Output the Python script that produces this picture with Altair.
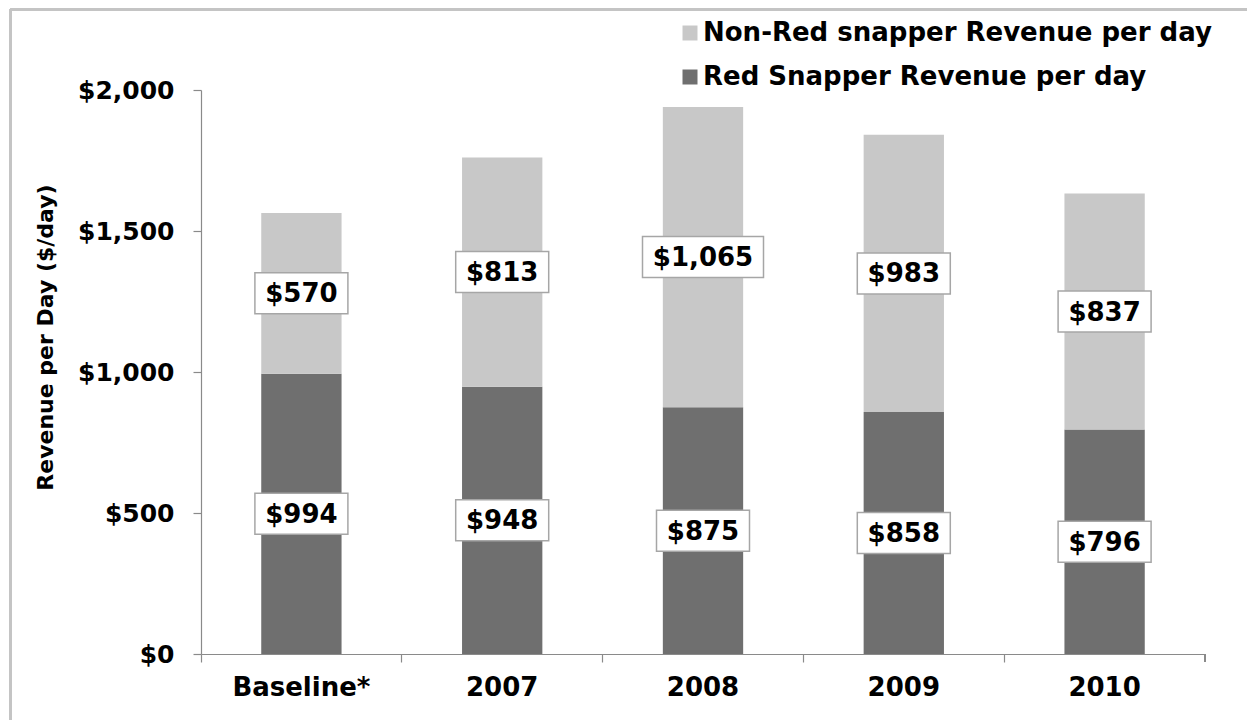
import altair as alt
import pandas as pd

categories = ["Baseline*", "2007", "2008", "2009", "2010"]
red_snapper = [994, 948, 875, 858, 796]
non_red = [570, 813, 1065, 983, 837]
series_names = ["Non-Red snapper Revenue per day", "Red Snapper Revenue per day"]
y_ticks = [0, 500, 1000, 1500, 2000]

rows = []
for c, r, n in zip(categories, red_snapper, non_red):
    rows.append({"cat": c, "series": series_names[1], "value": r, "order": 0})
    rows.append({"cat": c, "series": series_names[0], "value": n, "order": 1})
df = pd.DataFrame(rows)

W, H = 1004, 564
FONT = "DejaVu Sans"
LIGHT, DARK = "#c8c8c8", "#6f6f6f"
AXIS_GRAY = "#8a8a8a"

base = alt.Chart(df).transform_stack(
    stack="value", groupby=["cat"], as_=["y0", "y1"],
    sort=[alt.SortField("order", order="ascending")]
).transform_calculate(mid="(datum.y0 + datum.y1) / 2")

xenc = alt.X("cat:N", sort=categories,
             scale=alt.Scale(paddingInner=0, paddingOuter=0),
             axis=alt.Axis(title=None, labelAngle=0, bandPosition=0,
                           tickSize=8, tickColor=AXIS_GRAY, domainColor=AXIS_GRAY,
                           labelFont=FONT, labelFontWeight="bold",
                           labelFontSize=26, labelColor="black", labelPadding=12,
                           tickWidth=1.2, domainWidth=1.2))

bars = base.mark_bar(width=alt.RelativeBandSize(0.4)).encode(
    x=xenc,
    y=alt.Y("y0:Q", scale=alt.Scale(domain=[0, 2000]),
            axis=alt.Axis(values=y_ticks, format="$,.0f", title="Revenue per Day ($/day)",
                          grid=False, tickSize=8, tickColor=AXIS_GRAY, domainColor=AXIS_GRAY,
                          labelFont=FONT, labelFontWeight="bold", labelFontSize=25,
                          labelColor="black", labelPadding=19,
                          titleFont=FONT, titleFontWeight="bold", titleFontSize=22,
                          titleColor="black", titleX=-156, titleY=247, titleAngle=-90,
                          titleAlign="center", titleBaseline="middle",
                          tickWidth=1.2, domainWidth=1.2)),
    y2="y1:Q",
    color=alt.Color("series:N",
                    scale=alt.Scale(domain=series_names, range=[LIGHT, DARK]),
                    legend=alt.Legend(title=None, orient="none", legendX=476, legendY=-70,
                                      symbolType="square", symbolSize=225,
                                      symbolStrokeWidth=0,
                                      labelFont=FONT, labelFontWeight="bold",
                                      labelFontSize=26, labelColor="black",
                                      labelLimit=0,
                                      labelOffset=0, rowPadding=18)),
    order=alt.Order("order:Q"),
)

box_shape = ("datum.value >= 1000 ? "
             "'M-1.21,-0.41L1.21,-0.41L1.21,0.41L-1.21,0.41Z' : "
             "'M-0.93,-0.41L0.93,-0.41L0.93,0.41L-0.93,0.41Z'")

boxes = base.transform_calculate(shp=box_shape).mark_point(
    filled=True, fill="white", stroke="#a6a6a6", strokeWidth=1.5, size=10000, opacity=1
).encode(
    x=alt.X("cat:N", sort=categories),
    y=alt.Y("mid:Q"),
    shape=alt.Shape("shp:N", scale=None),
)

labels = base.mark_text(font=FONT, fontWeight="bold", fontSize=26, color="black",
                        baseline="middle", align="center", dy=1).encode(
    x=alt.X("cat:N", sort=categories),
    y=alt.Y("mid:Q"),
    text=alt.Text("value:Q", format="$,.0f"),
)

last_tick = alt.Chart(df).mark_rule(color=AXIS_GRAY, strokeWidth=1.2).encode(
    x=alt.value(W), y=alt.value(H), y2=alt.value(H + 8))

frame_top = alt.Chart(df).mark_rule(color="#c4c4c4", strokeWidth=2).encode(
    x=alt.value(-190.5), x2=alt.value(W + 80), y=alt.value(-80.5))
frame_left = alt.Chart(df).mark_rule(color="#c4c4c4", strokeWidth=2).encode(
    x=alt.value(-190.5), y=alt.value(-80.5), y2=alt.value(H + 80))

chart = alt.layer(bars, boxes, labels, last_tick, frame_top, frame_left).properties(
    width=W, height=H,
    autosize=alt.AutoSizeParams(type="none"),
    padding={"left": 193, "top": 82, "right": 42, "bottom": 66},
    background="white",
).configure_view(stroke=None)

chart.save("out.html", embed_options={"renderer": "svg", "actions": False})
